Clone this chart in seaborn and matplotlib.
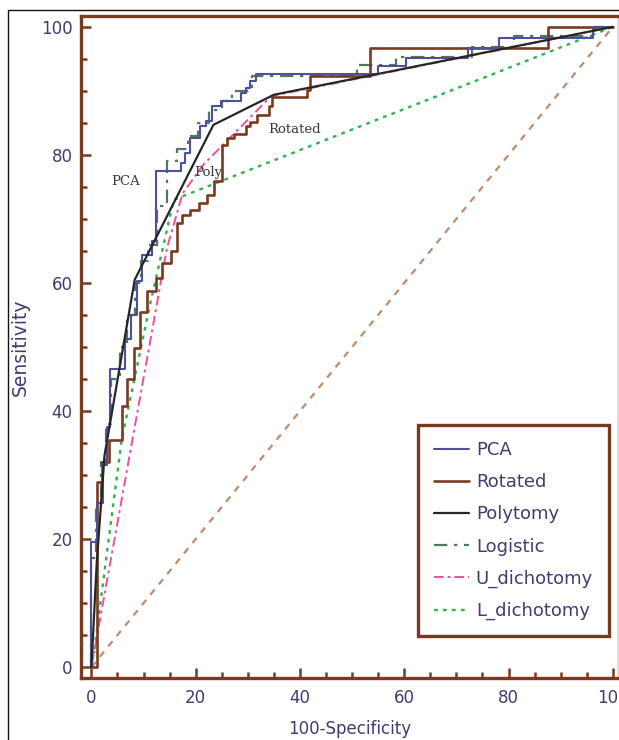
import matplotlib
matplotlib.use("Agg")
import matplotlib.pyplot as plt
import seaborn as sns
from matplotlib.patches import Rectangle
from matplotlib.ticker import MultipleLocator

# ROC operating points in percent: x = 100-Specificity, y = Sensitivity
pca_x = [0, 1.1, 2.3, 3.0, 3.6, 6.5, 7.5, 8.8, 9.7, 11.6, 12.3, 17.1, 18.0, 19.0,
         20.9, 21.9, 23.2, 24.8, 28.6, 29.6, 30.5, 31.5, 55.0, 60.3, 72.2, 78.1, 96.2, 100]
pca_y = [0, 19.5, 25.7, 31.5, 37.5, 46.6, 51.3, 55.0, 60.3, 64.3, 66.5, 77.5, 78.7, 80.3,
         82.6, 84.5, 85.3, 87.6, 88.4, 89.7, 90.4, 91.5, 92.6, 93.9, 95.2, 96.7, 98.3, 100]

rot_x = [0, 1.0, 2.0, 3.3, 5.9, 6.8, 8.1, 9.4, 10.7, 12.3, 13.6, 15.2, 16.4, 17.4, 19.0,
         20.6, 22.2, 23.5, 25.1, 26.0, 27.3, 29.6, 30.5, 31.8, 34.0, 34.6, 41.4, 42.0,
         53.5, 87.5, 100]
rot_y = [0, 0, 28.9, 32.0, 35.5, 40.8, 45.0, 49.8, 55.5, 58.7, 60.7, 63.1, 65.0, 69.3, 70.6,
         71.4, 72.5, 73.8, 75.9, 81.6, 82.6, 83.2, 84.5, 85.2, 86.3, 87.6, 89.1, 90.2,
         92.4, 96.7, 100]

poly_x = [0, 1.0, 2.5, 8.3, 23.4, 35.0, 100]
poly_y = [0, 16.0, 33.0, 60.5, 84.7, 89.4, 100]

logit_x = [0, 0.8, 1.8, 2.8, 3.8, 5.5, 6.8, 8.3, 9.5, 10.8, 12.5, 14.5, 16.5, 18.5, 20.5,
           22.5, 25.0, 27.0, 30.8, 51.0, 58.4, 73.0, 81.0, 96.5, 100]
logit_y = [0, 17.0, 25.0, 32.0, 38.0, 45.0, 50.0, 55.0, 60.0, 63.5, 66.0, 72.0, 79.0, 81.0,
           83.0, 85.0, 87.0, 88.5, 90.0, 92.3, 94.0, 95.3, 96.8, 98.5, 100]

udich_x = [0, 14.5, 17.5, 21.5, 34.5, 100]
udich_y = [0, 65.5, 74.0, 78.5, 89.2, 100]

ldich_x = [0, 0.6, 5.8, 11.2, 15.8, 100]
ldich_y = [0, 3.0, 35.5, 56.5, 73.0, 100]

chance_x = [0, 100]
chance_y = [0, 100]

tick_values = [0, 20, 40, 60, 80, 100]

BROWN = "#7b3a1f"
NAVY = "#3e3e70"

sns.set_theme(style="white")
plt.rcParams["font.family"] = ["DejaVu Sans"]

fig = plt.figure(figsize=(6.19, 7.40), dpi=100)
ax = fig.add_axes([81 / 619, 62 / 740, (618 - 81) / 619, (678 - 16) / 740])

# reference diagonal
sns.lineplot(x=chance_x, y=chance_y, sort=False, estimator=None, ax=ax,
             color="#c08a6c", lw=1.6, linestyle=(0, (3, 3)))

sns.lineplot(x=ldich_x, y=ldich_y, sort=False, estimator=None, ax=ax,
             color="#2fb34e", lw=1.7, linestyle=(0, (1.6, 2.2)), label="L_dichotomy")
sns.lineplot(x=udich_x, y=udich_y, sort=False, estimator=None, ax=ax,
             color="#ee4f9a", lw=1.4, linestyle=(0, (5, 2, 1.5, 2)), label="U_dichotomy")
sns.lineplot(x=logit_x, y=logit_y, sort=False, estimator=None, ax=ax,
             drawstyle="steps-pre", color="#4d7a5c", lw=1.6,
             linestyle=(0, (6, 3, 1.5, 3)), label="Logistic")
sns.lineplot(x=rot_x, y=rot_y, sort=False, estimator=None, ax=ax,
             drawstyle="steps-pre", color=BROWN, lw=1.9, label="Rotated")
sns.lineplot(x=pca_x, y=pca_y, sort=False, estimator=None, ax=ax,
             drawstyle="steps-pre", color="#50509a", lw=1.5, label="PCA")
sns.lineplot(x=poly_x, y=poly_y, sort=False, estimator=None, ax=ax,
             color="#262626", lw=1.6, label="Polytomy")

ax.set_xlim(-2.0, 101.0)
ax.set_ylim(-1.7, 101.7)
ax.xaxis.set_major_locator(MultipleLocator(20))
ax.xaxis.set_minor_locator(MultipleLocator(5))
ax.yaxis.set_major_locator(MultipleLocator(20))
ax.yaxis.set_minor_locator(MultipleLocator(5))
ax.set_xticks(tick_values)
ax.set_yticks(tick_values)
ax.set_xticklabels([str(v) for v in tick_values])
ax.set_yticklabels([str(v) for v in tick_values])

ax.tick_params(which="both", direction="in", color=BROWN, width=1.8,
               labelcolor=NAVY, labelsize=12, bottom=True, left=True,
               top=False, right=False)
ax.tick_params(which="major", length=7.5)
ax.tick_params(which="minor", length=4)
ax.tick_params(axis="x", which="major", pad=8)
ax.tick_params(axis="y", which="major", pad=6)

for side in ("left", "bottom", "top"):
    ax.spines[side].set_color(BROWN)
    ax.spines[side].set_linewidth(2.4)
ax.spines["right"].set_color("#e2d6d0")
ax.spines["right"].set_linewidth(1.2)

ax.set_xlabel("100-Specificity", fontsize=12, color=NAVY, labelpad=9)
ax.set_ylabel("Sensitivity", fontsize=13.5, color=NAVY, labelpad=8)

# curve tags
tag_style = dict(family="DejaVu Serif", fontsize=9.5, color="#3a3a3a",
                 ha="center", va="center")
ax.text(6.5, 75.8, "PCA", **tag_style)
ax.text(22.4, 77.3, "Poly", **tag_style)
ax.text(39.0, 84.0, "Rotated", **tag_style)

handles, labels = ax.get_legend_handles_labels()
order = ["PCA", "Rotated", "Polytomy", "Logistic", "U_dichotomy", "L_dichotomy"]
hmap = dict(zip(labels, handles))
leg = ax.legend([hmap[k] for k in order], order, loc="upper left",
                bbox_to_anchor=(418 / 619, 1 - 425 / 740),
                bbox_transform=fig.transFigure, borderaxespad=0,
                frameon=True, fancybox=False, framealpha=1,
                edgecolor=BROWN, facecolor="white",
                prop={"size": 13}, labelcolor=NAVY,
                handlelength=1.9, handletextpad=0.4,
                labelspacing=0.78, borderpad=0.9)
leg.get_frame().set_linewidth(2.4)

# outer frame of the figure
fig.patches.append(Rectangle((8 / 619, -0.05), 1.0, (730 / 740) + 0.05,
                             transform=fig.transFigure, fill=False,
                             ec="#111111", lw=1.0))

fig.savefig("out.png", dpi=100, facecolor="white")
